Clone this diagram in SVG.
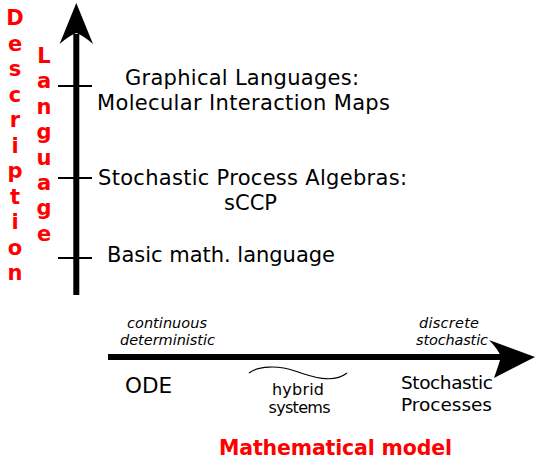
<svg xmlns="http://www.w3.org/2000/svg" width="535" height="461" viewBox="0 0 535 461">
<style>
.lbl{font-family:"DejaVu Sans","Verdana",sans-serif;font-size:21px;fill:#000}
.it{font-family:"DejaVu Sans",sans-serif;font-size:14.5px;font-style:italic;fill:#000}
.md{font-family:"DejaVu Sans",sans-serif;fill:#000}
.red{font-family:"DejaVu Sans",sans-serif;font-weight:bold;font-size:21px;fill:#ff0000;text-anchor:middle}
.tick{stroke:#000;stroke-width:2}
.ax{fill:#000}
</style>
<rect width="535" height="461" fill="#fff"/>
<g id="connectors">
  <g id="y-axis">
    <rect class="ax" x="73.3" y="34" width="6" height="261"/>
    <path class="ax" d="M76.3,3 L93,44 Q84,36 76.3,33 Q68.6,36 59.6,44 Z"/>
    <line class="tick" x1="58" y1="86" x2="92" y2="86"/>
    <line class="tick" x1="58" y1="178" x2="92" y2="178"/>
    <line class="tick" x1="58" y1="258" x2="92" y2="258"/>
  </g>
  <g id="x-axis">
    <rect class="ax" x="108" y="354" width="394" height="6"/>
    <path class="ax" d="M535,357 L489,340 Q498,349 501,357 Q498,367 494,378 Z"/>
  </g>
  <path id="hybrid-brace" d="M249,373 C258,366 278,365 295,371 C312,377 333,384 347,373" fill="none" stroke="#000" stroke-width="1.1"/>
</g>
<g id="axis-label-y">
  <text class="red" x="15" y="25">D</text>
  <text class="red" x="15" y="50.5">e</text>
  <text class="red" x="15" y="76">s</text>
  <text class="red" x="15" y="101.5">c</text>
  <text class="red" x="15" y="127">r</text>
  <text class="red" x="15" y="152.5">i</text>
  <text class="red" x="15" y="178">p</text>
  <text class="red" x="15" y="203.5">t</text>
  <text class="red" x="15" y="229">i</text>
  <text class="red" x="15" y="254.5">o</text>
  <text class="red" x="15" y="280">n</text>
  <text class="red" x="44" y="63">L</text>
  <text class="red" x="44" y="88.4">a</text>
  <text class="red" x="44" y="113.8">n</text>
  <text class="red" x="44" y="139.2">g</text>
  <text class="red" x="44" y="164.6">u</text>
  <text class="red" x="44" y="190">a</text>
  <text class="red" x="44" y="215.4">g</text>
  <text class="red" x="44" y="240.8">e</text>
</g>
<g id="node-graphical">
  <text class="lbl" x="125" y="84.5" textLength="234" lengthAdjust="spacing">Graphical Languages:</text>
  <text class="lbl" x="97" y="109.5" textLength="293" lengthAdjust="spacing">Molecular Interaction Maps</text>
</g>
<g id="node-spa">
  <text class="lbl" x="98" y="184.5" textLength="309" lengthAdjust="spacing">Stochastic Process Algebras:</text>
  <text class="lbl" x="250.5" y="209.5" text-anchor="middle">sCCP</text>
</g>
<g id="node-basic">
  <text class="lbl" x="107" y="262" textLength="228" lengthAdjust="spacing">Basic math. language</text>
</g>
<g id="node-continuous">
  <text class="it" x="127" y="328" textLength="80" lengthAdjust="spacing">continuous</text>
  <text class="it" x="120" y="345" textLength="95" lengthAdjust="spacing">deterministic</text>
</g>
<g id="node-discrete">
  <text class="it" x="419" y="328" textLength="60" lengthAdjust="spacing">discrete</text>
  <text class="it" x="416" y="345" textLength="72" lengthAdjust="spacing">stochastic</text>
</g>
<g id="node-ode">
  <text class="md" x="125" y="393" font-size="21.5" textLength="47" lengthAdjust="spacing">ODE</text>
</g>
<g id="node-hybrid">
  <text class="md" x="272" y="395" font-size="16" textLength="52" lengthAdjust="spacing">hybrid</text>
  <text class="md" x="268.5" y="413" font-size="16" textLength="62" lengthAdjust="spacing">systems</text>
</g>
<g id="node-stochastic">
  <text class="md" x="401" y="389" font-size="18.5" textLength="92" lengthAdjust="spacing">Stochastic</text>
  <text class="md" x="401" y="411" font-size="18.5" textLength="91" lengthAdjust="spacing">Processes</text>
</g>
<g id="axis-label-x">
  <text x="219" y="455" font-family="DejaVu Sans, sans-serif" font-weight="bold" font-size="20.5" fill="#ff0000" textLength="233" lengthAdjust="spacing">Mathematical model</text>
</g>
</svg>
